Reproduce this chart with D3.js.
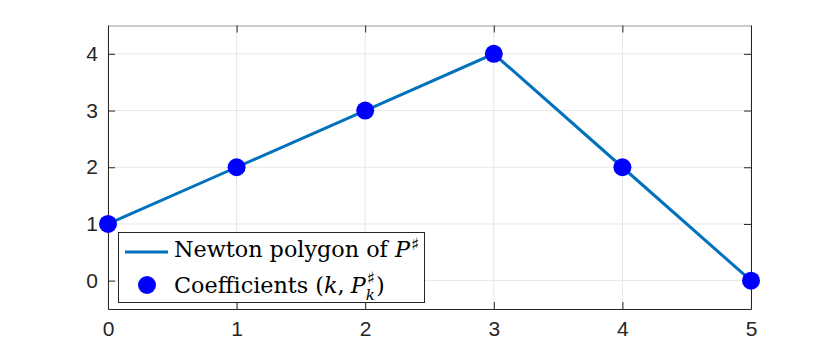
<!doctype html>
<html>
<head>
<script src="https://d3js.org/d3.v7.min.js"></script>
<style>
body { margin: 0; background: #fff; }
.leg { font-family: "DejaVu Serif", "Liberation Serif", serif; font-size: 22.3px; fill: #000; white-space: pre; }
</style>
</head>
<body>
<svg width="830" height="347"></svg>
<script>
// data
var kValues = [0, 1, 2, 3, 4, 5];
var coeffValues = [1, 2, 3, 4, 2, 0];
var xTicks = [0, 1, 2, 3, 4, 5];
var yTicks = [0, 1, 2, 3, 4];

var svg = d3.select("svg");
var mLeft = 108, mRight = 751, mTop = 25.5, mBottom = 309;

var x = d3.scaleLinear().domain([0, 5]).range([mLeft, mRight]);
var y = d3.scaleLinear().domain([-0.5, 4.5]).range([mBottom, mTop]);
var fmt = d3.format("d");

// grid
var grid = svg.append("g");
grid.selectAll(".gx").data(xTicks).enter().append("line")
  .attr("x1", d => x(d)).attr("x2", d => x(d))
  .attr("y1", mTop).attr("y2", mBottom)
  .attr("stroke", "#e6e6e6").attr("stroke-width", 1);
grid.selectAll(".gy").data(yTicks).enter().append("line")
  .attr("x1", mLeft).attr("x2", mRight)
  .attr("y1", d => y(d)).attr("y2", d => y(d))
  .attr("stroke", "#e6e6e6").attr("stroke-width", 1);

// axes, ticks inward
var ax = svg.append("g").attr("transform", "translate(0," + mBottom + ")")
  .call(d3.axisBottom(x).tickValues(xTicks).tickFormat(fmt).tickSizeInner(-7).tickSizeOuter(0).tickPadding(11));
var ay = svg.append("g").attr("transform", "translate(" + mLeft + ",0)")
  .call(d3.axisLeft(y).tickValues(yTicks).tickFormat(fmt).tickSizeInner(-7).tickSizeOuter(0).tickPadding(10));
var axTop = svg.append("g").attr("transform", "translate(0," + mTop + ")")
  .call(d3.axisTop(x).tickValues(xTicks).tickSizeInner(-7).tickSizeOuter(0).tickFormat(""));
var ayR = svg.append("g").attr("transform", "translate(" + mRight + ",0)")
  .call(d3.axisRight(y).tickValues(yTicks).tickSizeInner(-7).tickSizeOuter(0).tickFormat(""));
[ax, ay, axTop, ayR].forEach(function (g) {
  g.selectAll("path").attr("stroke", "#262626").attr("stroke-width", 1);
  g.selectAll("line").attr("stroke", "#262626").attr("stroke-width", 1);
  g.selectAll("text")
    .style("font-family", "'Liberation Sans', Arial, sans-serif")
    .style("font-size", "21px")
    .attr("fill", "#262626");
});
ax.selectAll(".tick text").attr("dy", "0.75em");
axTop.select("path").attr("stroke", "#9a9a9a");

// line + markers
var pts = kValues.map((k, i) => [k, coeffValues[i]]);
svg.append("path").datum(pts)
  .attr("fill", "none").attr("stroke", "#0072BD").attr("stroke-width", 3)
  .attr("d", d3.line().x(d => x(d[0])).y(d => y(d[1])));
svg.selectAll(".pt").data(pts).enter().append("circle")
  .attr("cx", d => x(d[0])).attr("cy", d => y(d[1])).attr("r", 9)
  .attr("fill", "#0000FF");

// legend
var lg = svg.append("g");
lg.append("rect").attr("x", 118.5).attr("y", 232.5).attr("width", 306).attr("height", 70)
  .attr("fill", "#fff").attr("stroke", "#262626").attr("stroke-width", 1);
lg.append("line").attr("x1", 125).attr("x2", 168).attr("y1", 252).attr("y2", 252)
  .attr("stroke", "#0072BD").attr("stroke-width", 3);
lg.append("circle").attr("cx", 147).attr("cy", 285).attr("r", 9).attr("fill", "#0000FF");

function piece(g, xx, yy, txt, opts) {
  opts = opts || {};
  var t = g.append("text").attr("class", "leg").attr("x", xx).attr("y", yy).text(txt);
  if (opts.italic) t.style("font-style", "italic");
  if (opts.size) t.style("font-size", opts.size + "px");
  if (opts.sans) t.style("font-family", "'DejaVu Sans', sans-serif");
  return xx + t.node().getComputedTextLength();
}
var cx = piece(lg, 174, 257, "Newton polygon of ");
cx = piece(lg, cx, 257, "P", { italic: true });
piece(lg, cx + 1, 250, "\u266F", { size: 17, sans: true });

cx = piece(lg, 174, 293, "Coefficients (");
cx = piece(lg, cx, 293, "k", { italic: true });
cx = piece(lg, cx, 293, ",");
cx = piece(lg, cx + 6, 293, "P", { italic: true });
var c1 = piece(lg, cx + 1, 284, "\u266F", { size: 17, sans: true });
var c2 = piece(lg, cx, 300, "k", { italic: true, size: 15 });
piece(lg, Math.max(c1, c2) + 1, 293, ")");
</script>
</body>
</html>
